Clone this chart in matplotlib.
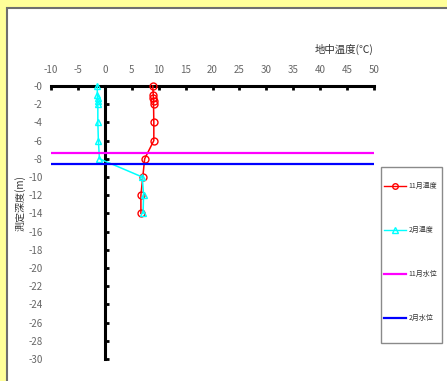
import matplotlib
matplotlib.use('Agg')
import matplotlib.pyplot as plt
from matplotlib.patches import Rectangle
from matplotlib.lines import Line2D

plt.rcParams['font.family'] = ['Noto Sans CJK JP', 'DejaVu Sans']

# measured depth (m) and soil temperature (C)
depth = [0, -1, -1.3, -1.6, -2, -4, -6, -8, -10, -12, -14]
temp_nov = [8.9, 9.0, 9.0, 9.05, 9.05, 9.1, 9.1, 7.4, 7.05, 6.7, 6.7]
temp_feb = [-1.4, -1.4, -1.35, -1.3, -1.3, -1.3, -1.2, -1.0, 6.95, 7.2, 7.1]

# ground water levels (m)
level_nov = -7.35
level_feb = -8.55

x_ticks = list(range(-10, 51, 5))
y_ticks = list(range(0, -31, -2))
y_labels = ['-0'] + [str(v) for v in y_ticks[1:]]

W, H = 447, 381
fig = plt.figure(figsize=(W / 100, H / 100), dpi=100)
fig.patch.set_facecolor('#FFFF99')

# white chart area with dark border
fig.add_artist(Rectangle((7 / W, -0.01), 1, 1.01 - 8 / H, transform=fig.transFigure,
                         facecolor='white', edgecolor='#6e6e6e', linewidth=1.5,
                         zorder=-10))

ax = fig.add_axes([51 / W, 1 - 359 / H, 323 / W, 273 / H])
ax.set_facecolor('none')
ax.set_xlim(-10, 50)
ax.set_ylim(-30, 0)

ax.plot(temp_nov, depth, color='#FF0000', lw=1.1, marker='o', ms=5,
        mfc='none', mec='#FF0000', mew=1.0, clip_on=False, zorder=4)
ax.plot(temp_feb, depth, color='#00FFFF', lw=1.1, marker='^', ms=5,
        mfc='none', mec='#00FFFF', mew=1.0, clip_on=False, zorder=5)
ax.plot([-10, 50], [level_nov, level_nov], color='#FF00FF', lw=1.6, zorder=6)
ax.plot([-10, 50], [level_feb, level_feb], color='#0000FF', lw=1.6, zorder=6)

for s in ['left', 'bottom']:
    ax.spines[s].set_visible(False)
ax.spines['top'].set_linewidth(2.2)
ax.spines['right'].set_linewidth(2.2)
ax.spines['right'].set_position(('data', 0))

tick_color = '#666666'
ax.xaxis.set_ticks_position('top')
ax.set_xticks(x_ticks)
ax.set_xticklabels([str(v) for v in x_ticks])
ax.tick_params(axis='x', direction='in', length=3, width=2, pad=8,
               labelsize=7, labelcolor=tick_color)

ax.set_yticks(y_ticks)
ax.set_yticklabels(y_labels)
ax.yaxis.set_ticks_position('both')
ax.tick_params(axis='y', which='both', left=False, right=True, labelleft=True,
               labelright=False, direction='out', length=3, width=2,
               labelsize=7, labelcolor=tick_color, pad=3)

fig.text(344 / W, 1 - 49 / H, '地中温度(℃)', ha='center', va='center',
         fontsize=7.5, color='#333333')
fig.text(20 / W, 1 - 203 / H, '測定深度(m)', ha='center', va='center',
         rotation=90, fontsize=7.2, color='#333333')

# legend box
fig.add_artist(Rectangle((381 / W, 1 - 343 / H), 61 / W, 176 / H,
                         transform=fig.transFigure, facecolor='white',
                         edgecolor='#8a8a8a', linewidth=1.0, zorder=1))
handles = [
    Line2D([], [], color='#FF0000', lw=1.0, marker='o', ms=4, mfc='none'),
    Line2D([], [], color='#00FFFF', lw=1.0, marker='^', ms=4, mfc='none'),
    Line2D([], [], color='#FF00FF', lw=1.6),
    Line2D([], [], color='#0000FF', lw=1.6),
]
labels = ['11月温度', '2月温度', '11月水位', '2月水位']
leg = fig.legend(handles, labels, loc='upper left',
                 bbox_to_anchor=(384 / W, 1 - 182 / H), frameon=False,
                 borderpad=0, borderaxespad=0, fontsize=5, handlelength=3.2,
                 handletextpad=0.3, labelspacing=5.2)
for t in leg.get_texts():
    t.set_color('#333333')

fig.savefig('out.png', dpi=100, facecolor=fig.get_facecolor())
